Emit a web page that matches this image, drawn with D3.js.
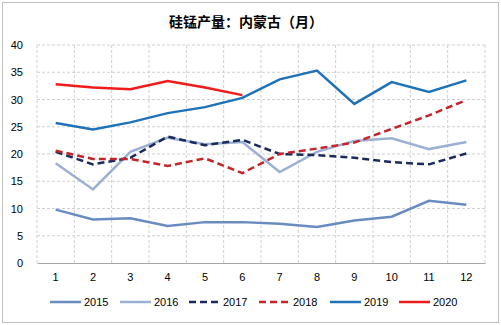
<!DOCTYPE html>
<html><head><meta charset="utf-8">
<script src="https://cdn.jsdelivr.net/npm/d3@7"></script>
<style>body{margin:0;background:#fff}svg{display:block}</style>
</head><body>
<script>
const months = ["1","2","3","4","5","6","7","8","9","10","11","12"];
const yTicks = [0,5,10,15,20,25,30,35,40];
const s2015 = [9.8,8.0,8.2,6.8,7.5,7.5,7.2,6.6,7.8,8.5,11.4,10.7];
const s2016 = [18.3,13.5,20.4,23.0,21.8,22.2,16.7,20.4,22.4,22.9,20.9,22.2];
const s2017 = [20.4,18.1,19.3,23.2,21.6,22.6,20.0,19.8,19.3,18.5,18.1,20.1];
const s2018 = [20.6,19.1,19.1,17.8,19.2,16.5,20.0,21.0,22.1,24.6,27.1,29.9];
const s2019 = [25.7,24.5,25.8,27.5,28.6,30.3,33.7,35.3,29.2,33.2,31.4,33.5];
const s2020 = [32.8,32.2,31.9,33.4,32.2,30.8];
const seriesNames = ["2015","2016","2017","2018","2019","2020"];
const seriesData = [s2015,s2016,s2017,s2018,s2019,s2020];
const colors = ["#6a8bc0","#9bb0d3","#1b2a5c","#c2262b","#1f72b8","#f01c1c"];
const dashed = [false,false,true,true,false,false];

const W=501,H=325;
const svg=d3.select("body").append("svg").attr("width",W).attr("height",H);
svg.append("rect").attr("x",2.5).attr("y",2.5).attr("width",W-5).attr("height",H-5)
  .attr("fill","#fff").attr("stroke","#bfbfbf");
const L=37,R=485,T=45,B=263;
const x=d3.scaleBand().domain(months).range([L,R]);
const y=d3.scaleLinear().domain([0,40]).range([B,T]);
const font="'Liberation Sans', Arial, sans-serif";

svg.append("text").attr("x",246).attr("y",27).attr("text-anchor","middle")
  .attr("font-family","'Noto Sans CJK SC', sans-serif").attr("font-weight","bold")
  .attr("font-size",14).attr("fill","#000").text("硅锰产量：内蒙古（月）");

// grid
const g=svg.append("g");
g.selectAll(".hg").data(yTicks.filter(d=>d>0)).enter().append("line")
  .attr("x1",L).attr("x2",R).attr("y1",d=>y(d)).attr("y2",d=>y(d))
  .attr("stroke","#d0d0d0").attr("stroke-dasharray","3,2");
const vb=months.map(m=>x(m)).concat([R]);
g.selectAll(".vg").data(vb).enter().append("line")
  .attr("x1",d=>d).attr("x2",d=>d).attr("y1",T).attr("y2",B)
  .attr("stroke","#d0d0d0").attr("stroke-dasharray","3,2");

// axes
const ya=svg.append("g").attr("transform",`translate(${L},0)`)
  .call(d3.axisLeft(y).tickValues(yTicks).tickSize(0).tickPadding(14));
ya.select(".domain").remove();
ya.selectAll("text").attr("font-family",font).attr("font-size",11).attr("fill","#000");
const xa=svg.append("g").attr("transform",`translate(0,${B})`)
  .call(d3.axisBottom(x).tickSize(0).tickPadding(10));
xa.select(".domain").attr("stroke","#a6a6a6");
xa.selectAll("text").attr("font-family",font).attr("font-size",11).attr("fill","#000");

// lines
const line=d3.line().x((d,i)=>x(months[i])+x.bandwidth()/2).y(d=>y(d));
seriesData.forEach((s,k)=>{
  svg.append("path").datum(s).attr("d",line).attr("fill","none")
    .attr("stroke",colors[k]).attr("stroke-width",2.5)
    .attr("stroke-dasharray",dashed[k]?"7,4":null);
});

// legend
const lx=[50,120,189,259,330,399];
const ly=302;
seriesNames.forEach((n,k)=>{
  svg.append("line").attr("x1",lx[k]).attr("x2",lx[k]+31).attr("y1",ly).attr("y2",ly)
    .attr("stroke",colors[k]).attr("stroke-width",2.5)
    .attr("stroke-dasharray",dashed[k]?"7,4":null);
  svg.append("text").attr("x",lx[k]+34).attr("y",ly+4).attr("font-family",font)
    .attr("font-size",11).attr("fill","#000").text(n);
});
</script>
</body></html>
